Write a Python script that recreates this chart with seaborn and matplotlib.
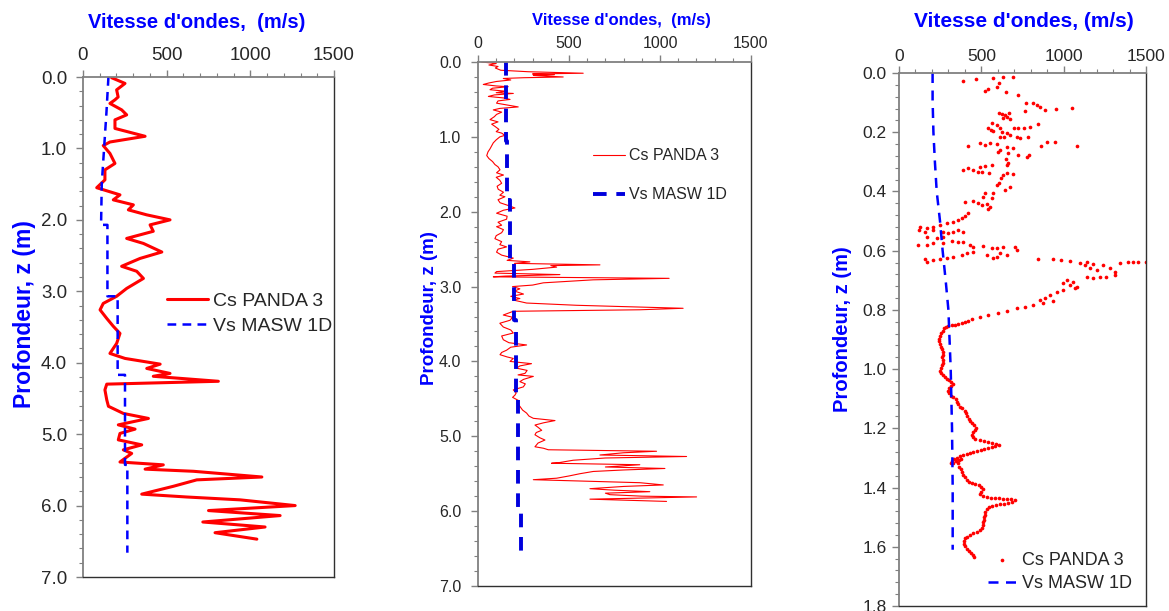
import matplotlib
matplotlib.use("Agg")
import matplotlib.pyplot as plt
from matplotlib.ticker import MultipleLocator, FormatStrFormatter
import seaborn as sns

# ---- panel 1 : Cs PANDA 3 (ligne) + Vs MASW 1D ----
p1_depth = [0.01, 0.09, 0.18, 0.28, 0.32, 0.37, 0.46, 0.53, 0.60, 0.72, 0.83, 0.91, 0.96, 1.07,
            1.21, 1.30, 1.44, 1.55, 1.65, 1.72, 1.79, 1.86, 1.93, 2.00, 2.07, 2.16, 2.26, 2.33,
            2.45, 2.54, 2.65, 2.72, 2.82, 2.96, 3.07, 3.17, 3.26, 3.38, 3.49, 3.59, 3.73, 3.87,
            3.94, 4.02, 4.08, 4.15, 4.19, 4.26, 4.30, 4.38, 4.52, 4.61, 4.71, 4.78, 4.87, 4.93,
            4.99, 5.08, 5.15, 5.22, 5.27, 5.39, 5.43, 5.49, 5.52, 5.60, 5.64, 5.73, 5.84, 5.88,
            5.92, 6.00, 6.07, 6.14, 6.23, 6.30, 6.38, 6.47]
p1_cs = [171, 251, 201, 210, 191, 161, 231, 261, 191, 191, 371, 161, 121, 161,
         191, 131, 131, 82, 221, 181, 301, 271, 381, 520, 401, 420, 261, 361,
         471, 341, 231, 321, 361, 261, 201, 121, 102, 142, 181, 221, 201, 161,
         251, 461, 381, 520, 420, 809, 142, 131, 142, 152, 241, 391, 211, 311,
         221, 211, 351, 241, 291, 221, 480, 371, 660, 1069, 680, 540, 351, 620,
         939, 1268, 750, 1178, 716, 1088, 789, 1039]
p1_masw_depth = [0.0, 0.5, 1.0, 1.5, 2.07, 2.07, 3.07, 3.07, 4.17, 4.17, 5.43, 5.43, 6.66]
p1_masw = [152, 140, 126, 112, 108, 146, 146, 207, 207, 251, 251, 265, 265]

# ---- panel 2 : Cs PANDA 3 (ligne fine) + Vs MASW 1D ----
p2_depth = [0.00, 0.02, 0.04, 0.06, 0.08, 0.11, 0.13, 0.15, 0.16, 0.17, 0.18, 0.20, 0.21, 0.22,
            0.24, 0.26, 0.28, 0.30, 0.32, 0.33, 0.35, 0.37, 0.39, 0.41, 0.42, 0.44, 0.46, 0.48,
            0.50, 0.52, 0.55, 0.57, 0.59, 0.60, 0.62, 0.64, 0.67, 0.70, 0.73, 0.77, 0.80, 0.83,
            0.86, 0.90, 0.93, 0.95, 0.98, 1.00, 1.04, 1.08, 1.12, 1.16, 1.20, 1.25, 1.29, 1.33,
            1.37, 1.40, 1.44, 1.48, 1.51, 1.54, 1.58, 1.62, 1.66, 1.70, 1.74, 1.78, 1.80, 1.84,
            1.88, 1.92, 1.95, 1.98, 2.02, 2.06, 2.10, 2.14, 2.18, 2.20, 2.24, 2.28, 2.32, 2.36,
            2.40, 2.44, 2.47, 2.50, 2.54, 2.58, 2.62, 2.65, 2.67, 2.69, 2.71, 2.72, 2.74, 2.77,
            2.80, 2.82, 2.84, 2.86, 2.87, 2.89, 2.90, 2.91, 2.93, 2.95, 2.98, 3.00, 3.03, 3.06,
            3.10, 3.13, 3.16, 3.18, 3.22, 3.25, 3.29, 3.31, 3.33, 3.36, 3.38, 3.41, 3.45, 3.49,
            3.54, 3.58, 3.62, 3.66, 3.71, 3.75, 3.78, 3.81, 3.85, 3.88, 3.91, 3.94, 3.96, 4.00,
            4.03, 4.06, 4.09, 4.12, 4.16, 4.18, 4.20, 4.24, 4.27, 4.30, 4.34, 4.38, 4.42, 4.45,
            4.48, 4.52, 4.56, 4.60, 4.65, 4.69, 4.73, 4.76, 4.79, 4.82, 4.85, 4.88, 4.92, 4.95,
            4.98, 5.02, 5.05, 5.09, 5.14, 5.16, 5.18, 5.20, 5.22, 5.25, 5.26, 5.27, 5.29, 5.32,
            5.35, 5.36, 5.38, 5.41, 5.43, 5.45, 5.47, 5.50, 5.53, 5.56, 5.58, 5.60, 5.62, 5.65,
            5.67, 5.70, 5.72, 5.74, 5.76, 5.78, 5.80, 5.81, 5.83, 5.84, 5.86, 5.87]
p2_cs = [20, 100, 60, 110, 95, 125, 276, 578, 300, 420, 304, 468, 250, 139,
         180, 102, 60, 29, 100, 166, 80, 66, 150, 100, 194, 90, 57, 140,
         176, 110, 102, 150, 200, 221, 120, 84, 130, 102, 90, 66, 110, 75,
         93, 115, 100, 130, 148, 120, 100, 84, 75, 66, 55, 48, 60, 80,
         93, 110, 121, 102, 140, 100, 120, 130, 105, 111, 140, 120, 148, 110,
         121, 170, 203, 140, 102, 160, 157, 110, 130, 102, 140, 130, 100, 93,
         130, 120, 157, 110, 102, 130, 194, 160, 285, 200, 670, 400, 432, 300,
         102, 93, 450, 150, 84, 1050, 850, 633, 500, 359, 300, 190, 230, 200,
         250, 180, 230, 194, 267, 542, 1127, 889, 194, 160, 139, 190, 176, 120,
         139, 180, 194, 130, 139, 170, 267, 180, 157, 130, 121, 160, 194, 176,
         294, 230, 212, 270, 258, 220, 304, 250, 230, 260, 249, 194, 210, 203,
         190, 221, 215, 230, 245, 267, 280, 304, 423, 360, 313, 330, 350, 320,
         313, 340, 368, 330, 313, 360, 386, 981, 800, 670, 900, 1146, 700, 523,
         450, 404, 889, 700, 1027, 800, 633, 560, 500, 432, 304, 600, 889, 1018,
         800, 615, 750, 944, 700, 725, 900, 1201, 800, 615, 900, 1036]
p2_masw_depth = [0.0, 1.05, 1.05, 1.85, 1.85, 2.65, 2.65, 3.45, 3.45, 4.47, 4.47, 6.0, 6.0, 6.56]
p2_masw = [154, 154, 162, 162, 176, 176, 196, 196, 209, 209, 221, 221, 236, 236]

# ---- panel 3 : Cs PANDA 3 (points) + Vs MASW 1D ----
p3_depth = [0.026, 0.020, 0.016, 0.012, 0.014, 0.035, 0.048, 0.055, 0.060, 0.065, 0.074,
            0.102, 0.102, 0.109, 0.116, 0.125, 0.123, 0.117, 0.127,
            0.134, 0.138, 0.142, 0.147, 0.134, 0.153, 0.154,
            0.168, 0.177, 0.186, 0.192, 0.195, 0.187, 0.198, 0.204, 0.187, 0.186, 0.185, 0.181, 0.172,
            0.215, 0.215, 0.209, 0.215, 0.221, 0.217, 0.232, 0.232, 0.245, 0.247,
            0.245, 0.238, 0.243, 0.235, 0.241, 0.249, 0.254, 0.260, 0.266, 0.269, 0.277, 0.283, 0.278,
            0.292, 0.305, 0.311,
            0.328, 0.322, 0.328, 0.316, 0.314, 0.311, 0.333, 0.335, 0.339,
            0.345, 0.339, 0.341, 0.356, 0.370, 0.378, 0.395, 0.386,
            0.406, 0.418, 0.404, 0.421,
            0.435, 0.431, 0.440, 0.446, 0.442, 0.451, 0.460,
            0.472, 0.483, 0.491, 0.496, 0.502, 0.508, 0.514, 0.519, 0.525, 0.519,
            0.530, 0.536, 0.530, 0.536, 0.541, 0.536, 0.530, 0.536,
            0.553, 0.558, 0.555, 0.566, 0.570, 0.570, 0.581,
            0.581, 0.581, 0.575, 0.573,
            0.587, 0.584, 0.592, 0.592, 0.589, 0.587, 0.598, 0.609, 0.615, 0.620, 0.626, 0.615,
            0.603, 0.609, 0.615, 0.620, 0.626, 0.629, 0.631, 0.637, 0.629,
            0.628, 0.628, 0.631, 0.634, 0.643, 0.648, 0.660, 0.665, 0.648, 0.660, 0.643, 0.637,
            0.637, 0.637, 0.637, 0.637, 0.645, 0.671, 0.682, 0.688, 0.688, 0.691, 0.688,
            0.699, 0.705, 0.710, 0.716, 0.722, 0.727, 0.733, 0.738, 0.750, 0.759, 0.767,
            0.770, 0.776, 0.784, 0.789, 0.795, 0.803, 0.809, 0.817, 0.825, 0.832,
            0.837, 0.841, 0.844, 0.848, 0.850, 0.852, 0.855, 0.858, 0.862, 0.870, 0.879, 0.888,
            0.897, 0.906, 0.915, 0.924, 0.933, 0.942, 0.951, 0.960, 0.969, 0.978, 0.987, 0.996,
            1.005, 1.014, 1.021, 1.027, 1.032, 1.038, 1.043, 1.050, 1.058, 1.065, 1.073, 1.082,
            1.090, 1.095, 1.101, 1.110, 1.119, 1.127, 1.133, 1.141, 1.149, 1.158, 1.167, 1.175,
            1.183, 1.190, 1.198, 1.207, 1.214, 1.222, 1.230, 1.237, 1.240, 1.244, 1.246, 1.248,
            1.252, 1.255, 1.258, 1.262, 1.266, 1.270, 1.273, 1.278, 1.281, 1.284, 1.288, 1.291,
            1.294, 1.299, 1.305, 1.311, 1.316, 1.316, 1.311, 1.307, 1.302, 1.318, 1.329, 1.338,
            1.347, 1.356, 1.365, 1.374, 1.381, 1.384, 1.388, 1.390, 1.397, 1.406, 1.414, 1.422,
            1.428, 1.432, 1.434, 1.435, 1.436, 1.437, 1.439, 1.440, 1.442, 1.448, 1.451, 1.454,
            1.457, 1.459, 1.462, 1.467, 1.473, 1.482, 1.491, 1.500, 1.509, 1.518, 1.527, 1.536,
            1.544, 1.550, 1.554, 1.560, 1.566, 1.572, 1.581, 1.590, 1.599, 1.608, 1.615, 1.622,
            1.629, 1.635]
p3_cs = [389, 465, 568, 631, 694, 607, 593, 538, 522, 647, 722,
         771, 815, 840, 856, 886, 953, 1050, 767,
         607, 625, 643, 657, 670, 633, 674,
         562, 593, 538, 556, 568, 613, 623, 653, 698, 724, 759, 795, 846,
         613, 639, 674, 714, 734, 785, 896, 947, 1084, 862,
         421, 492, 522, 552, 593, 653, 694, 613, 603, 664, 724, 775, 789,
         647, 660, 653,
         386, 421, 451, 492, 522, 562, 481, 502, 548,
         633, 653, 694, 619, 607, 593, 643, 674,
         522, 512, 573, 562,
         401, 451, 481, 502, 532, 552, 542,
         421, 401, 380, 360, 330, 289, 249, 208, 168, 127,
         123, 158, 208, 269, 299, 330, 360, 389,
         168, 229, 269, 320, 360, 389, 431,
         117, 168, 208, 269,
         451, 512, 562, 593, 633, 704, 714, 613, 653, 593, 573, 532,
         451, 411, 380, 330, 289, 249, 208, 168, 158,
         846, 933, 981, 1038, 1099, 1129, 1159, 1200, 1240, 1281, 1341, 1392,
         1422, 1453, 1499, 1139, 1180, 1311, 1311, 1260, 1220, 1180, 1139,
         1018, 1058, 997, 1038, 1078, 1068, 997, 957, 916, 886, 856,
         937, 876, 815, 765, 714, 653, 603, 542, 492, 441,
         421, 400, 380, 360, 340, 319, 299, 285, 273, 265, 257, 249,
         245, 245, 249, 255, 263, 269, 265, 261, 265, 269, 261, 255,
         249, 253, 265, 279, 293, 305, 317, 326, 317, 305, 299, 301,
         313, 330, 346, 354, 358, 370, 384, 398, 409, 415, 423, 431,
         445, 457, 467, 463, 451, 443, 447, 463, 491, 516, 540, 564,
         589, 605, 585, 562, 540, 518, 495, 473, 451, 431, 411, 390,
         370, 350, 334, 322, 313, 330, 346, 362, 378, 358, 362, 374,
         384, 390, 398, 411, 427, 443, 463, 483, 500, 508, 495, 491,
         508, 532, 556, 580, 605, 629, 653, 678, 702, 686, 661, 637,
         613, 589, 564, 544, 532, 524, 520, 516, 516, 512, 508, 504,
         491, 471, 451, 431, 411, 398, 394, 394, 402, 415, 427, 439,
         447, 455]
p3_masw_depth = [0.0, 0.09, 0.2, 0.3, 0.4, 0.5, 0.6, 0.71, 0.8, 0.9, 1.0, 1.2, 1.4, 1.61]
p3_masw = [204, 204, 209, 218, 229, 249, 265, 285, 300, 307, 314, 322, 326, 326]

x_ticks = [0, 500, 1000, 1500]

sns.set_style("white")
plt.rcParams['font.family'] = ['Liberation Sans', 'DejaVu Sans']

fig = plt.figure(figsize=(11.69, 6.11), dpi=100)
W, H = 1169, 611
ax1 = fig.add_axes([83 / W, (H - 577) / H, 251 / W, 500 / H])
ax2 = fig.add_axes([478 / W, (H - 586) / H, 273 / W, 524 / H])
ax3 = fig.add_axes([899 / W, (H - 606) / H, 247 / W, 533 / H])

# panel 1
sns.lineplot(x=p1_cs, y=p1_depth, sort=False, estimator=None, color='red', lw=2.2,
             label='Cs PANDA 3', ax=ax1)
sns.lineplot(x=p1_masw, y=p1_masw_depth, sort=False, estimator=None, color='blue', lw=1.8,
             linestyle=(0, (3.5, 2.5)), label='Vs MASW 1D', ax=ax1)

# panel 2
sns.lineplot(x=p2_cs, y=p2_depth, sort=False, estimator=None, color='red', lw=0.8,
             label='Cs PANDA 3', ax=ax2)
sns.lineplot(x=p2_masw, y=p2_masw_depth, sort=False, estimator=None, color='#0000dd', lw=2.8,
             linestyle=(0, (3.5, 2.5)), label='Vs MASW 1D', ax=ax2)

# panel 3
sns.scatterplot(x=p3_cs, y=p3_depth, color='red', s=7, linewidth=0, marker='o',
                label='Cs PANDA 3', ax=ax3)
sns.lineplot(x=p3_masw, y=p3_masw_depth, sort=False, estimator=None, color='blue', lw=1.8,
             linestyle=(0, (4, 3)), label='Vs MASW 1D', ax=ax3)

configs = [
    # ax, ylim, ymajor, yminor, tick fs, pad x, pad y, title fs, title pos, title, ylabel fs, ylabel pos
    (ax1, 7.0, 1.0, 0.2, 13.5, 4.2, 6.5, 14.5, (0.454, 1.11), "Vitesse d'ondes,  (m/s)", 16.5, (-0.235, 0.526)),
    (ax2, 7.0, 1.0, 0.2, 11.5, 2.7, 7, 12, (0.527, 1.080), "Vitesse d'ondes,  (m/s)", 13.5, (-0.178, 0.53)),
    (ax3, 1.8, 0.2, 0.04, 12.5, 1.8, 4.0, 15, (0.506, 1.096), "Vitesse d'ondes, (m/s)", 14.5, (-0.23, 0.52)),
]
for ax, ymax, ymaj, ymin, tfs, padx, pady, ttfs, tpos, ttl, yfs, ypos in configs:
    ax.set_xlim(0, 1500)
    ax.set_ylim(ymax, 0)
    ax.set_xticks(x_ticks)
    ax.xaxis.set_minor_locator(MultipleLocator(100))
    ax.yaxis.set_major_locator(MultipleLocator(ymaj))
    ax.yaxis.set_minor_locator(MultipleLocator(ymin))
    ax.yaxis.set_major_formatter(FormatStrFormatter('%.1f'))
    ax.xaxis.tick_top()
    ax.xaxis.set_label_position('top')
    ax.tick_params(axis='x', which='major', direction='out', length=5, width=1, color='#808080',
                   labelsize=tfs, pad=padx, top=True, bottom=False)
    ax.tick_params(axis='x', which='minor', direction='out', length=3, width=0.8, color='#808080',
                   top=True, bottom=False)
    ax.tick_params(axis='y', which='major', direction='out', length=5, width=1, color='#808080',
                   labelsize=tfs, pad=pady, left=True)
    ax.tick_params(axis='y', which='minor', direction='out', length=3, width=0.8, color='#808080',
                   left=True)
    for side in ['top', 'left']:
        ax.spines[side].set_color('#808080')
        ax.spines[side].set_linewidth(1.3)
    for side in ['bottom', 'right']:
        ax.spines[side].set_color('#303030')
        ax.spines[side].set_linewidth(1.0)
    ax.set_xlabel(ttl, color='blue', fontweight='bold', fontsize=ttfs)
    ax.xaxis.set_label_coords(*tpos)
    ax.xaxis.label.set_verticalalignment('center')
    ax.set_ylabel('Profondeur, z (m)', color='blue', fontweight='bold', fontsize=yfs)
    ax.yaxis.set_label_coords(*ypos)
    ax.yaxis.label.set_verticalalignment('center')

ax1.legend(loc='upper left', bbox_to_anchor=(0.335, 0.570), frameon=False, fontsize=14,
           borderpad=0, borderaxespad=0, handlelength=2.1, handletextpad=0.25, labelspacing=0.4)
ax2.legend(loc='upper left', bbox_to_anchor=(0.42, 0.835), frameon=False, fontsize=11.5,
           borderpad=0, borderaxespad=0, handlelength=2.0, handletextpad=0.3, labelspacing=1.5)
ax3.legend(loc='upper left', bbox_to_anchor=(0.36, 0.102), frameon=False, fontsize=13,
           borderpad=0, borderaxespad=0, handlelength=1.6, handletextpad=0.3, labelspacing=0.35,
           markerscale=1.0)

fig.savefig('out.png', dpi=100)
